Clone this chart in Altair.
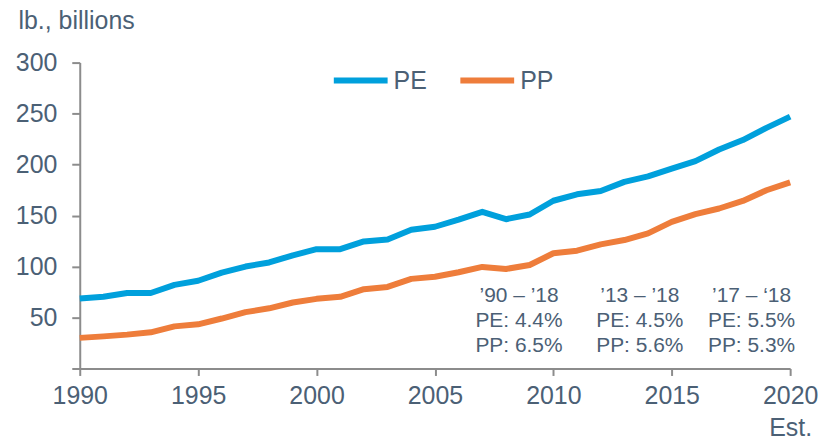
import altair as alt
import pandas as pd

years = list(range(1990, 2021))
pe = [68.6, 70.3, 74, 74, 82, 86, 94, 100, 104, 111, 117, 117, 124.6, 126.6, 136,
      139, 146, 153.6, 146.4, 151, 164.5, 170.8, 174, 183, 188.4, 196, 203.4,
      214.8, 224, 236, 247]
pp = [30, 31.5, 33.2, 35.5, 41.3, 43.3, 49, 55.3, 59, 64.7, 68.3, 70.3, 77.8, 80,
      87.9, 90, 94.4, 99.6, 97.6, 101.5, 113, 115.5, 121.7, 126, 132.5, 143.8,
      151.3, 156.9, 164.3, 174.8, 182.5]
series = ["PE", "PP"]
colors = ["#00A0DC", "#EE7D3B"]

blocks = [
    ["’90 – ’18", "PE: 4.4%", "PP: 6.5%"],
    ["’13 – ’18", "PE: 4.5%", "PP: 5.6%"],
    ["’17 – ‘18", "PE: 5.5%", "PP: 5.3%"],
]
block_year = [2008.55, 2013.65, 2018.37]
line_value = [70.6, 46.2, 21.8]

df = pd.DataFrame({
    "year": years * 2,
    "value": pe + pp,
    "series": ["PE"] * len(years) + ["PP"] * len(years),
})

ann = pd.DataFrame([
    {"year": block_year[i], "value": line_value[j], "text": blocks[i][j]}
    for i in range(3) for j in range(3)
])

FONT = "Liberation Sans, Arial, sans-serif"
TXT = "#4b6075"
AX = "#8c8c8c"

x = alt.X("year:Q",
          scale=alt.Scale(domain=[1990, 2020], nice=False, zero=False),
          axis=alt.Axis(values=[1990, 1995, 2000, 2005, 2010, 2015, 2020],
                        labelExpr="datum.value == 2020 ? ['2020', 'Est.'] : datum.label",
                        format="d", title=None, grid=False,
                        labelFontSize=25, labelColor=TXT, labelFont=FONT,
                        labelPadding=8, labelLineHeight=32, labelBaseline="top",
                        domainColor=AX, domainWidth=2, tickColor=AX, tickWidth=2,
                        tickSize=7, labelFlush=False, labelOverlap=False))
y = alt.Y("value:Q",
          scale=alt.Scale(domain=[0, 300], nice=False),
          axis=alt.Axis(values=[0, 50, 100, 150, 200, 250, 300],
                        labelExpr="datum.value == 0 ? '' : datum.label",
                        title="lb., billions", titleAngle=0, titleAlign="left",
                        titleBaseline="alphabetic", titleX=-62, titleY=-34,
                        titleFontSize=25, titleFontWeight="normal", titleColor=TXT,
                        titleFont=FONT, grid=False,
                        labelFontSize=25, labelColor=TXT, labelFont=FONT,
                        labelPadding=15,
                        domainColor=AX, domainWidth=2, tickColor=AX, tickWidth=2,
                        tickSize=8))

lines = alt.Chart(df).mark_line(strokeWidth=6, strokeCap="butt", strokeJoin="round").encode(
    x=x, y=y,
    color=alt.Color("series:N",
                    scale=alt.Scale(domain=series, range=colors),
                    legend=alt.Legend(title=None, orient="none", direction="horizontal",
                                      legendX=252, legendY=-12, padding=0,
                                      symbolType="stroke", symbolSize=2916,
                                      symbolStrokeWidth=6, labelFontSize=25,
                                      labelColor=TXT, labelFont=FONT, labelOffset=3,
                                      columnPadding=21)),
)

texts = alt.Chart(ann).mark_text(fontSize=21, font=FONT, color=TXT,
                                 align="center", baseline="middle").encode(
    x="year:Q", y="value:Q", text="text:N")

chart = alt.layer(lines, texts).properties(
    width=713, height=307,
    autosize=alt.AutoSizeParams(type="none"),
    padding={"left": 72, "top": 54, "right": 40, "bottom": 75},
).configure_view(stroke=None)

chart.save("out.html", embed_options={"renderer": "svg", "actions": False})
